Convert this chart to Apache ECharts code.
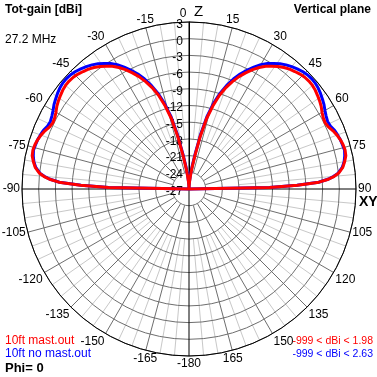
<!DOCTYPE html>
<html>
<head>
<meta charset="utf-8">
<script src="https://cdn.jsdelivr.net/npm/echarts@6/dist/echarts.min.js"></script>
<style>
  html, body { margin: 0; padding: 0; background: #fff; }
  #chart { width: 377px; height: 377px; }
</style>
</head>
<body>
<div id="chart"></div>
<script>
// elevation angle from zenith (deg), right half; pattern is symmetric in phi=0 plane
const theta = [0, 2, 4, 6, 8, 10, 12, 14, 16, 18, 20, 22, 24, 26, 28, 30, 32, 34, 36, 38, 40,
  42, 44, 46, 48, 50, 52, 54, 56, 58, 60, 62, 64, 66, 68, 70, 72, 74, 76, 78, 80, 82, 84,
  85, 86, 87, 88, 89, 90];

// 10ft mast.out (dBi)
const gainMast = [-27, -26.5, -25.8, -24.8, -23.2, -21, -17.5, -14, -11.5, -9.3, -7.6,
  -6.2, -4.9, -3.8, -2.7, -1.8, -1.0, -0.4, 0.2, 0.7, 1.1,
  1.4, 1.7, 1.9, 1.98, 1.95, 1.8, 1.55, 1.3, 1.0, 0.6, 0.3, 0.2, 0.4, 0.9, 1.3, 1.6, 1.8, 1.9, 1.8, 1.4, 0.9, 0.0,
  -0.8, -1.9, -3.6, -7.5, -12.5, -27];

// 10ft no mast.out (dBi)
const gainNoMast = [-27, -26.3, -25.5, -24.4, -22.7, -20.5, -17, -13.5, -11, -8.9, -7.2,
  -5.7, -4.4, -3.3, -2.2, -1.2, -0.4, 0.2, 0.8, 1.3, 1.7,
  2.05, 2.35, 2.55, 2.63, 2.6, 2.45, 2.2, 1.9, 1.6, 1.2, 0.9, 0.7, 0.8, 1.2, 1.4, 1.6, 1.7, 1.8, 1.6, 1.3, 0.8, -0.1,
  -0.9, -2.0, -3.7, -7.6, -12.6, -27];

const radiusMin = -27;
const radiusMax = 3;
const radiusStep = 3;
const angleStep = 15;

const FONT = 'Liberation Sans, Arial, sans-serif';

// build [gain, angle] pairs from -90 through 0 to +90
function toPolar(gains) {
  const pts = [];
  for (let i = theta.length - 1; i > 0; i--) {
    pts.push([Math.max(gains[i], radiusMin), 360 - theta[i]]);
  }
  for (let i = 0; i < theta.length; i++) {
    pts.push([Math.max(gains[i], radiusMin), theta[i]]);
  }
  return pts;
}

const chart = echarts.init(document.getElementById('chart'));

// main axes black, the rest drawn by the inner-clipped polars
const axisColors = [];
const spokeColors = [];
for (let a = 0; a < 360; a += angleStep) {
  axisColors.push(a % 90 === 0 ? '#000000' : 'rgba(0,0,0,0)');
  spokeColors.push(a % 90 === 0 ? 'rgba(0,0,0,0)' : '#6e6e6e');
}

const R = 167;
const hiddenRadius = { type: 'value', min: radiusMin, max: radiusMax, show: false };

const option = {
  animation: false,
  backgroundColor: '#ffffff',
  textStyle: { fontFamily: FONT },
  polar: [
    { center: [189, 189], radius: R },
    { center: [189, 189], radius: [17, R] },
    { center: [189, 189], radius: [50, R] }
  ],
  angleAxis: [
    {
      polarIndex: 0,
      type: 'value',
      min: 0,
      max: 360,
      interval: angleStep,
      startAngle: 90,
      clockwise: true,
      z: 3,
      axisLine: { lineStyle: { color: '#000', width: 1 } },
      axisTick: { show: false },
      axisLabel: {
        margin: 2,
        color: '#000',
        fontSize: 12,
        formatter: function (v) {
          if (v === 360) return '';
          if (v === 0) return '{z|0}';
          return String(v >= 180 ? v - 360 : v);
        },
        rich: {
          z: { color: '#000', fontSize: 12, padding: [0, 12, 0, 0] }
        }
      },
      splitLine: { show: true, lineStyle: { color: axisColors, width: 1 } }
    },
    {
      polarIndex: 1,
      type: 'value',
      min: 0,
      max: 360,
      interval: angleStep,
      startAngle: 90,
      clockwise: true,
      z: 2,
      axisLine: { show: false },
      axisTick: { show: false },
      axisLabel: { show: false },
      splitLine: { show: true, lineStyle: { color: spokeColors, width: 1 } }
    },
    {
      polarIndex: 2,
      type: 'value',
      min: 0,
      max: 360,
      interval: angleStep,
      startAngle: 90,
      clockwise: true,
      z: 1,
      axisLine: { show: false },
      axisTick: { show: false },
      axisLabel: { show: false },
      splitLine: { show: false },
      minorTick: { show: false, splitNumber: 3 },
      minorSplitLine: { show: true, lineStyle: { color: '#c8c8c8', width: 1 } }
    }
  ],
  radiusAxis: [
    {
      polarIndex: 0,
      type: 'value',
      min: radiusMin,
      max: radiusMax,
      interval: radiusStep,
      z: 3,
      axisLine: { show: true, lineStyle: { color: '#000' } },
      axisTick: { show: false },
      axisLabel: {
        color: '#000',
        fontSize: 12,
        margin: 0,
        // value sits just left of the vertical axis, a little below its circle
        formatter: function (v) { return '{a|' + v + '}{b| }'; },
        rich: {
          a: { fontSize: 12, color: '#000', padding: [5, 0, 0, 0] },
          b: { fontSize: 12, width: 6 }
        }
      },
      splitLine: { show: true, lineStyle: { color: '#6e6e6e', width: 1 } }
    },
    Object.assign({ polarIndex: 1 }, hiddenRadius),
    Object.assign({ polarIndex: 2 }, hiddenRadius)
  ],
  graphic: [
    { type: 'text', left: 5, top: 4, style: { text: 'Tot-gain [dBi]', fontSize: 12, fontWeight: 'bold', fill: '#000', fontFamily: FONT } },
    { type: 'text', right: 6, top: 4, style: { text: 'Vertical plane', fontSize: 12, fontWeight: 'bold', fill: '#000', fontFamily: FONT } },
    { type: 'text', left: 5, top: 34, style: { text: '27.2 MHz', fontSize: 12, fill: '#000', fontFamily: FONT } },
    { type: 'text', left: 194, top: 4, style: { text: 'Z', fontSize: 15, fill: '#000', fontFamily: FONT } },
    { type: 'text', left: 359, top: 195, style: { text: 'XY', fontSize: 14, fontWeight: 'bold', fill: '#000', fontFamily: FONT } },
    { type: 'text', left: 5, top: 335, style: { text: '10ft mast.out', fontSize: 12, fill: '#ff0000', fontFamily: FONT } },
    { type: 'text', left: 5, top: 348, style: { text: '10ft no mast.out', fontSize: 12, fill: '#0000ff', fontFamily: FONT } },
    { type: 'text', left: 5, top: 362, style: { text: 'Phi= 0', fontSize: 13, fontWeight: 'bold', fill: '#000', fontFamily: FONT } },
    { type: 'text', right: 4, top: 336, style: { text: '-999 < dBi < 1.98', fontSize: 10.5, fill: '#ff0000', fontFamily: FONT } },
    { type: 'text', right: 4, top: 349, style: { text: '-999 < dBi < 2.63', fontSize: 10.5, fill: '#0000ff', fontFamily: FONT } }
  ],
  series: [
    {
      name: '10ft no mast.out',
      type: 'line',
      coordinateSystem: 'polar',
      polarIndex: 0,
      data: toPolar(gainNoMast),
      showSymbol: false,
      lineStyle: { color: '#0000ff', width: 3 },
      z: 5
    },
    {
      name: '10ft mast.out',
      type: 'line',
      coordinateSystem: 'polar',
      polarIndex: 0,
      data: toPolar(gainMast),
      showSymbol: false,
      lineStyle: { color: '#ff0000', width: 3 },
      z: 6
    }
  ]
};

chart.setOption(option);
</script>
</body>
</html>
